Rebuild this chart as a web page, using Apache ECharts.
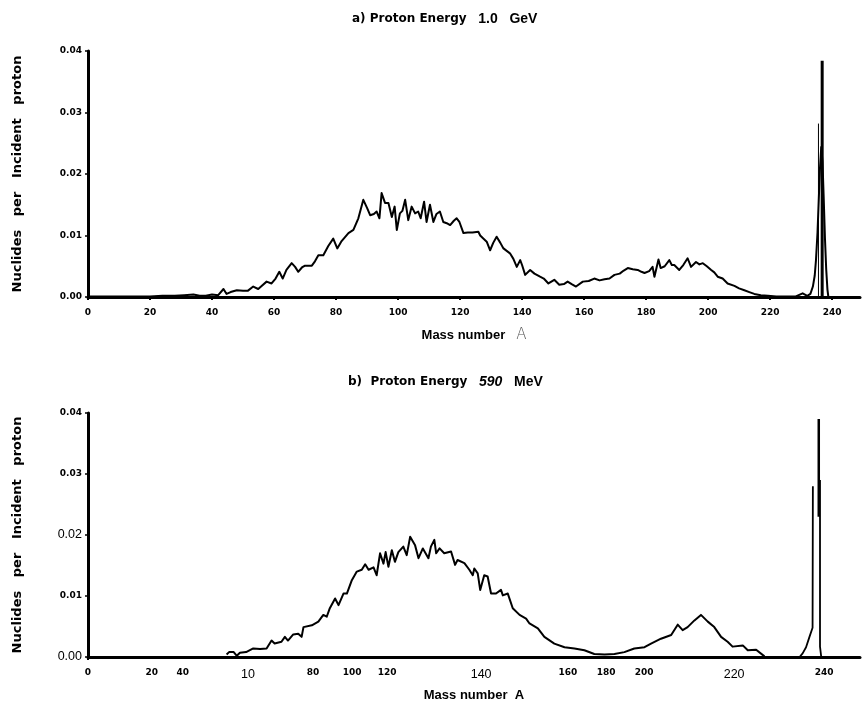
<!DOCTYPE html>
<html>
<head>
<meta charset="utf-8">
<script src="https://cdn.jsdelivr.net/npm/echarts@6/dist/echarts.min.js"></script>
<style>
html,body{margin:0;padding:0;background:#fff;}
#chart{width:862px;height:709px;}
</style>
</head>
<body>
<div id="chart"></div>
<script>
// ========= data (mass number A, nuclides per incident proton) =========
const topCurve = [
  [0,0.0001],[4,0.0001],[8,0.0001],[12,0.0001],[16,0.0001],[20,0.0001],[24,0.0002],[28,0.0002],
  [31,0.0003],[34,0.0004],[36,0.0002],[38,0.0002],[40,0.0004],[42,0.0003],[43.7,0.0013],[44.7,0.0005],
  [46,0.0008],[48,0.0011],[50,0.0010],[51.5,0.0010],[53.3,0.0017],[54.9,0.0013],[56,0.0018],[57.6,0.0025],
  [59.2,0.0022],[60.5,0.0030],[61.7,0.0041],[62.8,0.0030],[64,0.0044],[65.7,0.0055],[66.8,0.0049],[67.8,0.0041],
  [69,0.0048],[70,0.0051],[72.2,0.0051],[73.2,0.0058],[74.3,0.0068],[75.9,0.0068],[77.5,0.0083],[79.1,0.0095],
  [80.4,0.0079],[81.8,0.0091],[84,0.0104],[85.6,0.0109],[87.2,0.0128],[88.8,0.0158],[90,0.0145],[91,0.0133],
  [92.2,0.0135],[93.1,0.0139],[94,0.0128],[94.7,0.0169],[95.8,0.0153],[96.9,0.0153],[98,0.0130],[98.9,0.0147],
  [99.6,0.0109],[100.6,0.0136],[101.4,0.0140],[102.3,0.0158],[103.3,0.0125],[104.4,0.0147],[105.5,0.0136],
  [106.5,0.0139],[107.3,0.0128],[108.4,0.0155],[109.2,0.0122],[110.3,0.0150],[111.4,0.0122],[112.4,0.0135],
  [113.5,0.0139],[114.6,0.0122],[115.7,0.0120],[116.8,0.0117],[118,0.0124],[118.9,0.0128],[119.8,0.0122],
  [121.1,0.0104],[122.5,0.0105],[124,0.0105],[125.9,0.0106],[126.5,0.0100],[127.5,0.0095],[128.6,0.0090],
  [129.7,0.0076],[130.7,0.0088],[131.8,0.0098],[133,0.0088],[134,0.0079],[136.1,0.0071],[137.2,0.0062],
  [138.3,0.0049],[139.4,0.0060],[140,0.0052],[141,0.0036],[142.6,0.0044],[144,0.0038],[145.8,0.0033],
  [147,0.0030],[148.5,0.0022],[150.4,0.0028],[152,0.0020],[153.5,0.0021],[154.7,0.0025],[156,0.0021],
  [157.4,0.0017],[159.6,0.0025],[161.5,0.0026],[163.3,0.0030],[165,0.0027],[166.6,0.0029],[168.2,0.0030],
  [169.8,0.0036],[171.5,0.0038],[172.8,0.0043],[174.1,0.0047],[175.7,0.0045],[177.3,0.0044],[178.5,0.0041],
  [179.5,0.0039],[181,0.0042],[182.1,0.0049],[182.7,0.0033],[184,0.0061],[184.7,0.0047],[186,0.0050],
  [187.5,0.0060],[188.3,0.0052],[189.1,0.0052],[190.7,0.0044],[192,0.0052],[193.4,0.0063],[194.5,0.0049],
  [196.1,0.0057],[197.2,0.0053],[198.3,0.0055],[199.6,0.0050],[201,0.0044],[202,0.0040],[203.1,0.0033],
  [204.7,0.0030],[206.3,0.0022],[208.5,0.0018],[210,0.0014],[211.7,0.0011],[213.3,0.0008],[214.9,0.0005],
  [217,0.0003],[219.3,0.0002],[222,0.0001],[225,0.0001],[228.3,0.0001],[230.5,0.0006],[232,0.0002],
  [233,0.0005],[233.8,0.0017],[234.4,0.0035],[234.8,0.0060],[235.3,0.0105],[235.7,0.0158],[236.1,0.0210],
  [236.5,0.0244],[236.9,0.0220],[237.3,0.0160],[237.7,0.0095],[238.1,0.0045],[238.5,0.0012],[238.8,0]
];
const topSpikeA = [235.6, 236.8];
const topSpikeH = [0.0282, 0.0384];

const bottomCurve = [
  [44.7,0.0004],[45.5,0.0008],[47,0.0008],[48,0.0002],[49,0.0007],[51,0.0008],[53.3,0.0014],[55.5,0.0013],
  [57.6,0.0014],[59.2,0.0027],[60.2,0.0022],[62.4,0.0025],[63.5,0.0033],[64.5,0.0027],[66.2,0.0037],
  [67.8,0.0038],[68.9,0.0033],[69.5,0.0049],[72.2,0.0052],[74.3,0.0058],[75.9,0.0069],[77,0.0066],
  [78,0.0080],[79.7,0.0096],[80.8,0.0085],[82.4,0.0104],[83.5,0.0104],[85.1,0.0126],[86.7,0.0140],
  [88.3,0.0143],[89.4,0.0152],[90.5,0.0143],[92.1,0.0147],[93.1,0.0134],[94.2,0.0170],[95.3,0.0153],
  [96,0.0172],[96.9,0.0148],[98,0.0175],[99,0.0156],[100.1,0.0172],[101.7,0.0181],[102.8,0.0167],
  [103.9,0.0197],[105.5,0.0183],[106.6,0.0162],[108,0.0178],[109.8,0.0162],[110.6,0.0181],[111.7,0.0192],
  [112.3,0.0170],[113.4,0.0178],[114.9,0.0170],[117.1,0.0173],[118.4,0.0151],[119.2,0.0159],[121.4,0.0154],
  [123,0.0143],[124.1,0.0134],[124.6,0.0145],[125.7,0.0137],[126.5,0.0110],[127.8,0.0134],[128.9,0.0132],
  [130,0.0104],[131.6,0.0104],[133.2,0.0110],[133.8,0.0101],[135.4,0.0104],[137,0.0080],[139.2,0.0069],
  [141.3,0.0063],[142.4,0.0055],[145.1,0.0047],[147.2,0.0033],[150.4,0.0022],[153.7,0.0016],[156.9,0.0014],
  [160.1,0.0011],[163.3,0.0005],[166.6,0.0004],[169.8,0.0005],[173,0.0008],[176.2,0.0014],[179.5,0.0016],
  [181.6,0.0022],[184.8,0.0030],[188.1,0.0036],[190.2,0.0053],[191.8,0.0044],[193.4,0.0049],[195.6,0.0060],
  [197.7,0.0069],[199.9,0.0058],[202,0.0049],[204.2,0.0033],[206.3,0.0025],[207.9,0.0017],[211.2,0.0019],
  [212.8,0.0011],[215.5,0.0012],[218.2,0.0001]
];
const bottomTail = [[229.5,0],[230.5,0.0006],[231.6,0.0016],[232.7,0.0033],[233.7,0.0048],[233.8,0.0280]];
const bottomSpikes = [
  [[235.7,0.0230],[235.7,0.0390]],
  [[236.1,0.0290],[236.1,0.0017],[236.5,0]]
];

// tick labels
const topXTicks = [0,20,40,60,80,100,120,140,160,180,200,220,240];
const bottomXTicks = [0,20.6,30.6,51.6,72.6,85.2,96.5,126.8,154.8,167.1,179.4,208.4,237.4];
const bottomXLabels = ['0','20','40','10','80','100','120','140','160','180','200','220','240'];

// ========= styles =========
const plainXLabels = ['10','140','220'];
const plainYLabels = ['0.02','0.00'];
const pixFont = {fontFamily:'DejaVu Sans', fontWeight:'bold', fontSize:9, color:'#000'};
const plainFont = {fontFamily:'Liberation Sans', fontWeight:'normal', fontSize:12.5, color:'#000'};
const yName = 'Nuclides   per   Incident   proton';

const chart = echarts.init(document.getElementById('chart'), null, {renderer:'canvas'});

function xAxis(gridIndex, ticks, labelOf, tickVals, nameRich, gap){
  return {
    type:'value', gridIndex, min:0, max:249,
    name: nameRich, nameLocation:'middle', nameGap:gap,
    nameTextStyle:{fontFamily:'Liberation Sans', fontWeight:'bold', fontSize:13, color:'#000',
      rich:{
        m:{fontFamily:'Liberation Sans', fontWeight:'bold', fontSize:13, color:'#000'},
        o:{fontFamily:'DejaVu Sans', fontWeight:'200', fontSize:15, color:'#555'}
      }},
    axisLine:{show:true, onZero:false, lineStyle:{color:'#000', width:3}},
    axisTick:{show:true, customValues:tickVals, length:3, lineStyle:{color:'#000', width:2}},
    splitLine:{show:false},
    axisLabel:{customValues:ticks, margin:11, formatter:labelOf,
      rich:{p:pixFont, r:plainFont}}
  };
}

function yAxis(gridIndex, labelOf){
  return {
    type:'value', gridIndex, min:0, max:0.04, interval:0.01,
    name: yName, nameLocation:'middle', nameGap:64, nameRotate:90,
    nameTextStyle:{fontFamily:'DejaVu Sans', fontWeight:'bold', fontSize:13, color:'#000'},
    axisLine:{show:true, lineStyle:{color:'#000', width:3}},
    axisTick:{show:true, length:3, lineStyle:{color:'#000', width:1.5}},
    splitLine:{show:false},
    axisLabel:{margin:6, formatter:labelOf, rich:{p:pixFont, r:plainFont}}
  };
}

function line(xi, data, width){
  return {type:'line', xAxisIndex:xi, yAxisIndex:xi, data, symbol:'none', silent:true,
    animation:false, lineStyle:{color:'#000', width, join:'round'}};
}

const series = [line(0, topCurve, 2), line(1, bottomCurve, 2), line(1, bottomTail, 1.8)];
topSpikeA.forEach((a,i)=>series.push(line(0, [[a,0],[a,topSpikeH[i]]], i===0 ? 1 : 3)));
bottomSpikes.forEach((s,i)=>series.push(line(1, s, i===0 ? 2.5 : 1.8)));

const titleBold = {fontFamily:'DejaVu Sans', fontWeight:'bold', fontSize:12, color:'#000'};
const titleNum = {fontFamily:'Liberation Sans', fontWeight:'bold', fontSize:14, color:'#000'};

chart.setOption({
  animation:false,
  backgroundColor:'#fff',
  title:[
    {left:347, top:7, text:'{a|a) Proton Energy}{n|   1.0   GeV}',
     textStyle:{rich:{a:titleBold, n:titleNum}}},
    {left:343, top:370, text:'{a|b)  Proton Energy}{n|   }{i|590}{n|   MeV}',
     textStyle:{rich:{
       a:titleBold, n:titleNum,
       i:{fontFamily:'Liberation Sans', fontStyle:'italic', fontSize:14, color:'#000'}}}}
  ],
  grid:[
    {left:88, right:2, top:51, height:246, outerBoundsMode:'none'},
    {left:88, right:2, top:413, height:244, outerBoundsMode:'none'}
  ],
  xAxis:[
    xAxis(0, topXTicks, v => '{p|' + Math.round(v) + '}', topXTicks, '{m|Mass number}   {o|A}', 31),
    xAxis(1, bottomXTicks, v => {
      const t = bottomXLabels[bottomXTicks.indexOf(v)];
      return plainXLabels.includes(t) ? '{r|' + t + '}' : '{p|' + t + '}';
    }, [0], '{m|Mass number  A}', 32)
  ],
  yAxis:[
    yAxis(0, v => '{p|' + v.toFixed(2) + '}'),
    yAxis(1, v => {
      const t = v.toFixed(2);
      return plainYLabels.includes(t) ? '{r|' + t + '}' : '{p|' + t + '}';
    })
  ],
  series
});
</script>
</body>
</html>
